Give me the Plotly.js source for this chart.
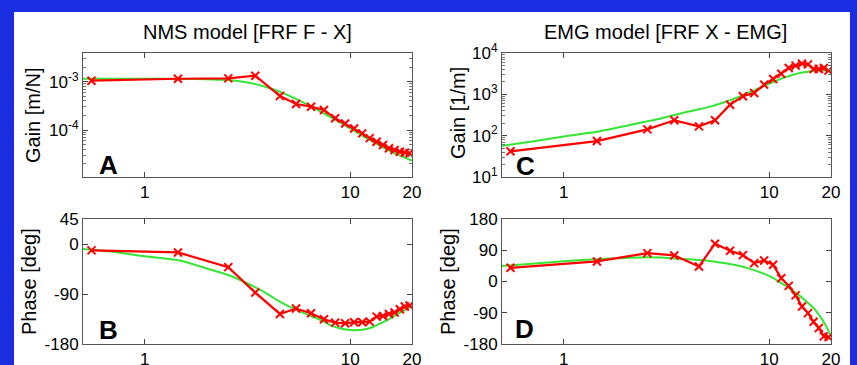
<!DOCTYPE html>
<html>
<head>
<meta charset="utf-8">
<script src="https://cdn.plot.ly/plotly-3.0.1.min.js"></script>
<style>html,body{margin:0;padding:0;background:#1b2de0;}#chart{width:857px;height:365px;}</style>
</head>
<body>
<div id="chart"></div>
<script>
// Measured frequencies (Hz)
const freqMeas = [0.55, 1.45, 2.55, 3.45, 4.55, 5.45, 6.45, 7.45, 8.45, 9.45, 10.45, 11.45, 12.45, 13.45, 14.45, 15.45, 16.45, 17.45, 18.45, 19.45];
// NMS model FRF F - X (measured, red)
const nmsGainMeas = [1.05e-3, 1.15e-3, 1.17e-3, 1.33e-3, 5.05e-4, 3.45e-4, 3.04e-4, 2.6e-4, 1.75e-4, 1.36e-4, 1.07e-4, 8.5e-5, 6.8e-5, 5.7e-5, 4.9e-5, 4.2e-5, 3.85e-5, 3.55e-5, 3.4e-5, 3.3e-5];
const nmsPhaseMeas = [-11.5, -15.2, -41.6, -87.4, -125.9, -116.2, -124.6, -135.5, -141.5, -142.7, -140.9, -140.9, -139.7, -130.7, -129.5, -125.9, -123.4, -117.4, -112.6, -110.8];
// EMG model FRF X - EMG (measured, red)
const emgGainMeas = [41.8, 74, 142, 235, 168, 235, 562, 895, 1077, 1714, 2350, 3162, 4340, 4940, 5525, 5300, 4100, 4100, 4340, 3740];
const emgPhaseMeas = [39.5, 57.8, 81.8, 75.1, 43.3, 108.8, 88.6, 76, 52.9, 60.6, 48, 9.6, -12.5, -40, -72, -91, -116, -134, -158, -160];

// Model curves (green)
const freqModel = [0.5, 0.7, 1, 1.5, 2, 2.5, 3, 3.5, 4, 4.5, 5, 6, 7, 8, 9, 10, 11, 12, 13, 14, 15, 16, 17, 18, 19, 20];
const nmsGainModel = [1.15e-3, 1.15e-3, 1.15e-3, 1.14e-3, 1.12e-3, 1.08e-3, 1.0e-3, 8.8e-4, 7.5e-4, 6.3e-4, 5.2e-4, 3.6e-4, 2.55e-4, 1.85e-4, 1.4e-4, 1.08e-4, 8.5e-5, 6.8e-5, 5.6e-5, 4.7e-5, 4.0e-5, 3.5e-5, 3.1e-5, 2.8e-5, 2.55e-5, 2.32e-5];
const nmsPhaseModel = [-9, -14, -22, -30, -44, -55, -67, -79, -91, -103, -112, -125, -135, -146, -152, -155, -155, -153, -149, -143, -138, -132, -126, -121, -116, -111];
const emgGainModel = [57, 72, 96, 128, 172, 218, 265, 322, 377, 430, 483, 635, 845, 1107, 1440, 1820, 2200, 2625, 2950, 3260, 3450, 3630, 3730, 3800, 3720, 3600];
const emgPhaseModel = [45, 51, 58, 65, 68, 70, 69, 66, 64, 62, 60, 53, 46, 37, 27, 16, 2, -12, -26, -40, -55, -70, -86, -107, -130, -157];

// Tick labels
const xTickVals = [1, 10, 20];
const xTickText = ['1', '10', '20'];
const nmsGainTickVals = [1e-4, 1e-3];
const nmsGainTickText = ['10<sup>-4</sup>', '10<sup>-3</sup>'];
const emgGainTickVals = [10, 100, 1000, 10000];
const emgGainTickText = ['10<sup>1</sup>', '10<sup>2</sup>', '10<sup>3</sup>', '10<sup>4</sup>'];
const nmsPhaseTicks = [-180, -90, 0, 45];
const emgPhaseTicks = [-180, -90, 0, 90, 180];

const W = 857, H = 365;
const px = v => v / W;
const py = v => 1 - v / H;
const FONT = 'Liberation Sans, Arial, Helvetica, sans-serif';
const RED = '#ff0000', GREEN = '#33e633';

function meas(x, y, xa, ya) {
  return {x: x, y: y, xaxis: xa, yaxis: ya, type: 'scatter', mode: 'lines+markers',
    line: {color: RED, width: 2.2}, marker: {symbol: 'x-thin', size: 8, color: RED, line: {color: RED, width: 2}},
    showlegend: false, hoverinfo: 'skip'};
}
function model(x, y, xa, ya) {
  return {x: x, y: y, xaxis: xa, yaxis: ya, type: 'scatter', mode: 'lines',
    line: {color: GREEN, width: 2, shape: 'spline', smoothing: 0.6}, showlegend: false, hoverinfo: 'skip'};
}

const traces = [
  model(freqModel, nmsGainModel, 'x', 'y'), meas(freqMeas, nmsGainMeas, 'x', 'y'),
  model(freqModel, nmsPhaseModel, 'x2', 'y2'), meas(freqMeas, nmsPhaseMeas, 'x2', 'y2'),
  model(freqModel, emgGainModel, 'x3', 'y3'), meas(freqMeas, emgGainMeas, 'x3', 'y3'),
  model(freqModel, emgPhaseModel, 'x4', 'y4'), meas(freqMeas, emgPhaseMeas, 'x4', 'y4')
];

function minorLog(lo, hi) {
  const out = [];
  for (let d = lo; d < hi; d++) for (let k = 2; k <= 9; k++) out.push(k * Math.pow(10, d));
  return out;
}

const tickFont = {family: FONT, size: 17, color: '#000'};
function xax(dom, anchor) {
  return {type: 'log', range: [Math.log10(0.5), Math.log10(20)], domain: dom, anchor: anchor,
    tickmode: 'array', tickvals: xTickVals, ticktext: xTickText, ticks: 'inside', ticklen: 5,
    tickcolor: '#444', showline: true, linecolor: '#555', linewidth: 1, mirror: 'ticks',
    showgrid: false, zeroline: false, tickfont: tickFont, fixedrange: true};
}
function ylog(dom, anchor, range, tv, tt, minorVals) {
  return {type: 'log', range: range, domain: dom, anchor: anchor, tickmode: 'array', tickvals: tv, ticktext: tt,
    ticks: 'inside', ticklen: 5, tickcolor: '#444', showline: true, linecolor: '#555', linewidth: 1,
    mirror: 'ticks', showgrid: false, zeroline: false, tickfont: tickFont,
    minor: {tickmode: 'array', tickvals: minorVals, ticks: 'inside', ticklen: 3, tickcolor: '#777', showgrid: false}};
}
function ylin(dom, anchor, range, tv) {
  return {type: 'linear', range: range, domain: dom, anchor: anchor, tickmode: 'array', tickvals: tv,
    ticktext: tv.map(String), ticks: 'inside', ticklen: 5, tickcolor: '#444', showline: true,
    linecolor: '#555', linewidth: 1, mirror: 'ticks', showgrid: false, zeroline: false, tickfont: tickFont};
}

const leftX = [px(83), px(412)], rightX = [px(502), px(831)];
const topY = [py(177), py(53)], botY = [py(344), py(219)];

function ann(text, x, y, opts) {
  return Object.assign({text: text, xref: 'paper', yref: 'paper', x: px(x), y: py(y), showarrow: false,
    font: {family: FONT, size: 20, color: '#000'}, xanchor: 'center', yanchor: 'middle'}, opts || {});
}
const letterFont = {family: FONT, size: 26, color: '#000', weight: 'bold'};

const layout = {
  width: W, height: H, margin: {l: 0, r: 0, t: 0, b: 0},
  paper_bgcolor: '#1b2de0', plot_bgcolor: '#ffffff', showlegend: false,
  xaxis: xax(leftX, 'y'), yaxis: ylog(topY, 'x', [-4.973, -2.406], nmsGainTickVals, nmsGainTickText, minorLog(-5, -2)),
  xaxis2: xax(leftX, 'y2'), yaxis2: ylin(botY, 'x2', [-180, 45], nmsPhaseTicks),
  xaxis3: xax(rightX, 'y3'), yaxis3: ylog(topY, 'x3', [1, 4], emgGainTickVals, emgGainTickText, minorLog(1, 4)),
  xaxis4: xax(rightX, 'y4'), yaxis4: ylin(botY, 'x4', [-180, 180], emgPhaseTicks),
  shapes: [{type: 'rect', xref: 'paper', yref: 'paper', x0: px(14), x1: px(850), y0: 0, y1: py(12),
    fillcolor: '#ffffff', line: {width: 0}, layer: 'below'}],
  annotations: [
    ann('NMS model [FRF F - X]', 247, 32),
    ann('EMG model [FRF X - EMG]', 665, 32),
    ann('Gain [m/N]', 33, 115, {textangle: -90}),
    ann('Phase [deg]', 29, 282, {textangle: -90}),
    ann('Gain [1/m]', 458, 113, {textangle: -90}),
    ann('Phase [deg]', 448, 282, {textangle: -90}),
    ann('<b>A</b>', 97, 165, {xanchor: 'left', font: letterFont}),
    ann('<b>B</b>', 97, 330, {xanchor: 'left', font: letterFont}),
    ann('<b>C</b>', 514, 166, {xanchor: 'left', font: letterFont}),
    ann('<b>D</b>', 513, 329, {xanchor: 'left', font: letterFont})
  ]
};

Plotly.newPlot('chart', traces, layout, {staticPlot: true, displayModeBar: false});
</script>
</body>
</html>
